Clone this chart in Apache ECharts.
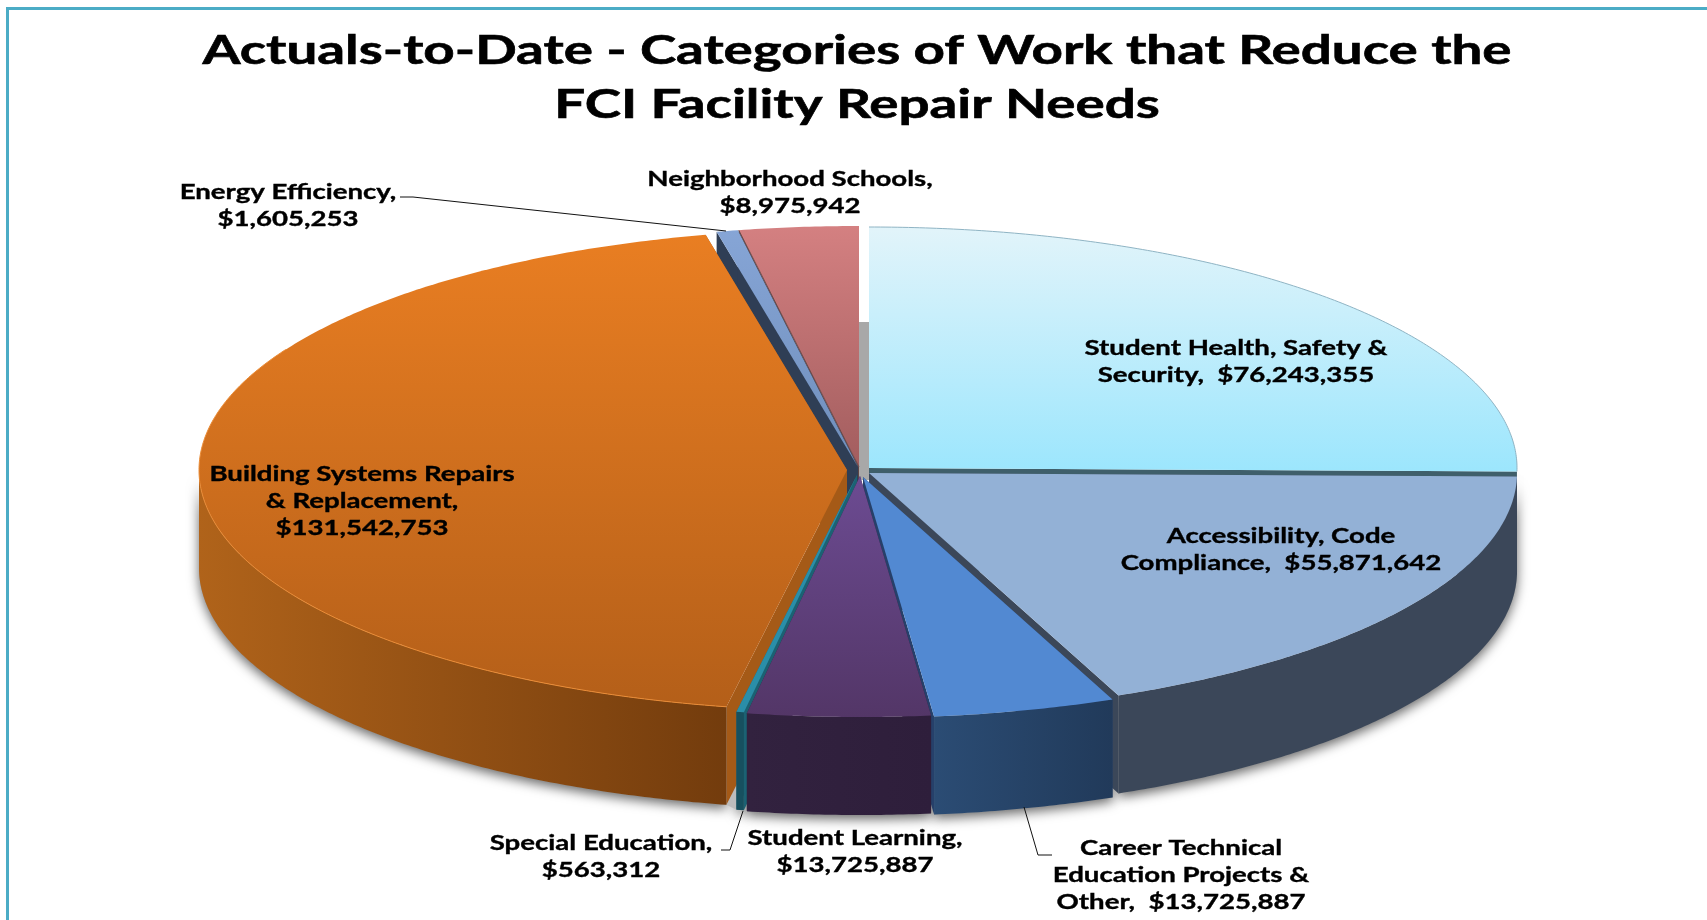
<!DOCTYPE html>
<html>
<head>
<meta charset="utf-8">
<script src="https://cdn.jsdelivr.net/npm/echarts@6/dist/echarts.min.js"></script>
<style>html,body{margin:0;padding:0;background:#fff}#c{width:1707px;height:920px}</style>
</head>
<body>
<div id="c"></div>
<script>
// ---- data ----
var titleLines = ['Actuals-to-Date - Categories of Work that Reduce the', 'FCI Facility Repair Needs'];
var categories = ['Student Health, Safety & Security', 'Accessibility, Code Compliance', 'Career Technical Education Projects & Other', 'Student Learning', 'Special Education', 'Building Systems Repairs & Replacement', 'Energy Efficiency', 'Neighborhood Schools'];
var values = [76243355, 55871642, 13725887, 13725887, 563312, 131542753, 1605253, 8975942];
var labelTemplates = ['Student Health, Safety &\nSecurity,  {v}', 'Accessibility, Code\nCompliance,  {v}', 'Career Technical\nEducation Projects &\nOther,  {v}', 'Student Learning,\n{v}', 'Special Education,\n{v}', 'Building Systems Repairs\n& Replacement,\n{v}', 'Energy Efficiency,\n{v}', 'Neighborhood Schools,\n{v}'];

// ---- layout and style ----
var RX = 648, RY = 241, DEPTH = 98;
var centers = [[869,468],[869,473],[863,477],[860,476],[857,475],[847,470],[858,467],[859,467]];
var labelAt = [[1236,362],[1281,550],[1181,876],[855,852],[601,857],[362,502],[288,206],[790,193]];
var leaders = [null,null,[[1052,855],[1038,855],[1024,807]],null,[[721,850],[730,850],[743,811]],null,[[400,197],[413,197],[726,231]],null];
var topFill = [['#E2F4FA','#9CE6FD'],['#93B1D6','#93B1D6'],['#5289D2','#5289D2'],['#6C4B92','#533667'],['#2A8EA8','#2A8EA8'],['#E97E22','#B45F19'],['#86A5D6','#6F8EBB'],['#D48081','#A25D5E']];
var wallFill = [['#3F5F6B','#3F5F6B'],['#3B4759','#3B4759'],['#2B4C74','#213A5A'],['#32223F','#2E1E3B'],['#17505F','#17505F'],['#B0631A','#733C0D'],['#2F3E55','#2F3E55'],['#6B4A4A','#6B4A4A']];
var edgeFill = ['#3F5F6B','#3B4759','#26406A','#2E1E3B','#1B6273','#A55A17','#2F3E55','#5E4545'];
var rimColor = ['#8FB4C4',null,null,null,null,'#EB8C36',null,null];
var drawOrder = [0,7,6,1,2,5,4,3];
var gapBand = {x0:855, x1:872, y0:322, y1:480, color:'#A8A8A8'};
var frameColor = '#4BACC6';
var labelFont = 'bold 20px "Lato"';
var titleFont = 'bold 41px "Lato"';
var TITLE_STRETCH = 1.335;
var LABEL_STRETCH = 1.38;

// ---- geometry derived from the values ----
var total = values.reduce(function(a,b){return a+b;},0);
var slices = [], cum = 0;
values.forEach(function(v,i){
  var s = cum/total*360; cum += v;
  slices.push({i:i, a0:s, a1:cum/total*360});
});
function pt(c,t,dy){var r=t*Math.PI/180;return [c[0]+RX*Math.sin(r), c[1]-RY*Math.cos(r)+(dy||0)];}
function arc(c,a,b,dy){var p=[],n=Math.max(2,Math.ceil((b-a)/0.5));for(var k=0;k<=n;k++)p.push(pt(c,a+(b-a)*k/n,dy));return p;}
function vGrad(st){return new echarts.graphic.LinearGradient(0,0,0,1,[{offset:0,color:st[0]},{offset:1,color:st[1]}]);}
function hGrad(st){return new echarts.graphic.LinearGradient(0,0,1,0,[{offset:0,color:st[0]},{offset:1,color:st[1]}]);}
function poly(points,style){return {type:'polygon',shape:{points:points},style:style};}
function wallPoints(s){
  var a=Math.max(s.a0,90), b=Math.min(s.a1,270);
  if(b<=a) return null;
  var c=centers[s.i];
  return arc(c,a,b,0).concat(arc(c,a,b,DEPTH).reverse());
}
function sliceGroup(s){
  var c=centers[s.i], ch=[];
  var rimA=pt(c,s.a0), rimB=pt(c,s.a1);
  ch.push(poly([c,rimA,[rimA[0],rimA[1]+DEPTH],[c[0],c[1]+DEPTH]],{fill:edgeFill[s.i]}));
  ch.push(poly([c,rimB,[rimB[0],rimB[1]+DEPTH],[c[0],c[1]+DEPTH]],{fill:edgeFill[s.i]}));
  var w=wallPoints(s);
  if(w) ch.push(poly(w,{fill:hGrad(wallFill[s.i])}));
  ch.push(poly([c].concat(arc(c,s.a0,s.a1,0)),{fill:vGrad(topFill[s.i])}));
  if(rimColor[s.i]) ch.push({type:'polyline',shape:{points:arc(c,Math.max(s.a0,s.i==5?190:0),s.i==5?300:s.a1,0)},style:{stroke:rimColor[s.i],lineWidth:1,fill:null}});
  if(s.i===7) ch.push({type:'polyline',shape:{points:[c,rimA]},style:{stroke:'#6B4A4A',lineWidth:1,fill:null}});
  return {type:'group',children:ch};
}
function fmt(v){return '$'+String(v).replace(/\B(?=(\d{3})+(?!\d))/g,',');}

var chart = echarts.init(document.getElementById('c'));
chart.setOption({
  animation:false,
  backgroundColor:'#fff',
  graphic:[
    {type:'rect',z:100,shape:{x:6,y:7,width:1701,height:3},style:{fill:frameColor}},
    {type:'rect',z:100,shape:{x:6,y:7,width:3,height:913},style:{fill:frameColor}},
    {type:'text',z:100,x:857,y:51,scaleX:TITLE_STRETCH,style:{text:titleLines[0],font:titleFont,fill:'#000',stroke:'#000',lineWidth:0.6,align:'center',verticalAlign:'middle'}},
    {type:'text',z:100,x:857,y:105,scaleX:TITLE_STRETCH,style:{text:titleLines[1],font:titleFont,fill:'#000',stroke:'#000',lineWidth:0.6,align:'center',verticalAlign:'middle'}}
  ],
  series:[
    {type:'custom',name:'shadow',coordinateSystem:'none',silent:true,z:1,data:values,
     renderItem:function(p){
       var w=wallPoints(slices[p.dataIndex]);
       if(!w) return {type:'group',children:[]};
       return poly(w,{fill:'#999',shadowBlur:12,shadowColor:'rgba(0,0,0,0.6)',shadowOffsetX:0,shadowOffsetY:4});
     }},
    {type:'custom',name:'gap',coordinateSystem:'none',silent:true,z:2,data:[0],
     renderItem:function(){
       var b=pt(centers[5],slices[5].a0), sp=pt(centers[4],slices[4].a1);
       return {type:'group',children:[
         {type:'rect',shape:{x:gapBand.x0,y:gapBand.y0,width:gapBand.x1-gapBand.x0,height:gapBand.y1-gapBand.y0},style:{fill:gapBand.color}},
         poly([b,[b[0],b[1]+DEPTH],[sp[0],sp[1]+DEPTH],sp],{fill:'#BDBDBD'})
       ]};
     }},
    {type:'custom',name:'Actuals-to-Date',coordinateSystem:'none',silent:true,z:3,data:drawOrder.map(function(i){return values[i];}),
     renderItem:function(p){ return sliceGroup(slices[drawOrder[p.dataIndex]]); }},
    {type:'custom',name:'labels',coordinateSystem:'none',silent:true,z:4,data:values,
     renderItem:function(p){
       var i=p.dataIndex, ch=[];
       if(leaders[i]) ch.push({type:'polyline',shape:{points:leaders[i]},style:{stroke:'#111',lineWidth:1,fill:null}});
       ch.push({type:'text',x:labelAt[i][0],y:labelAt[i][1],scaleX:LABEL_STRETCH,style:{text:labelTemplates[i].replace('{v}',fmt(values[i])),font:labelFont,fill:'#000',stroke:'#000',lineWidth:0.35,align:'center',verticalAlign:'middle',lineHeight:27}});
       return {type:'group',children:ch};
     }}
  ]
});
</script>
</body>
</html>
